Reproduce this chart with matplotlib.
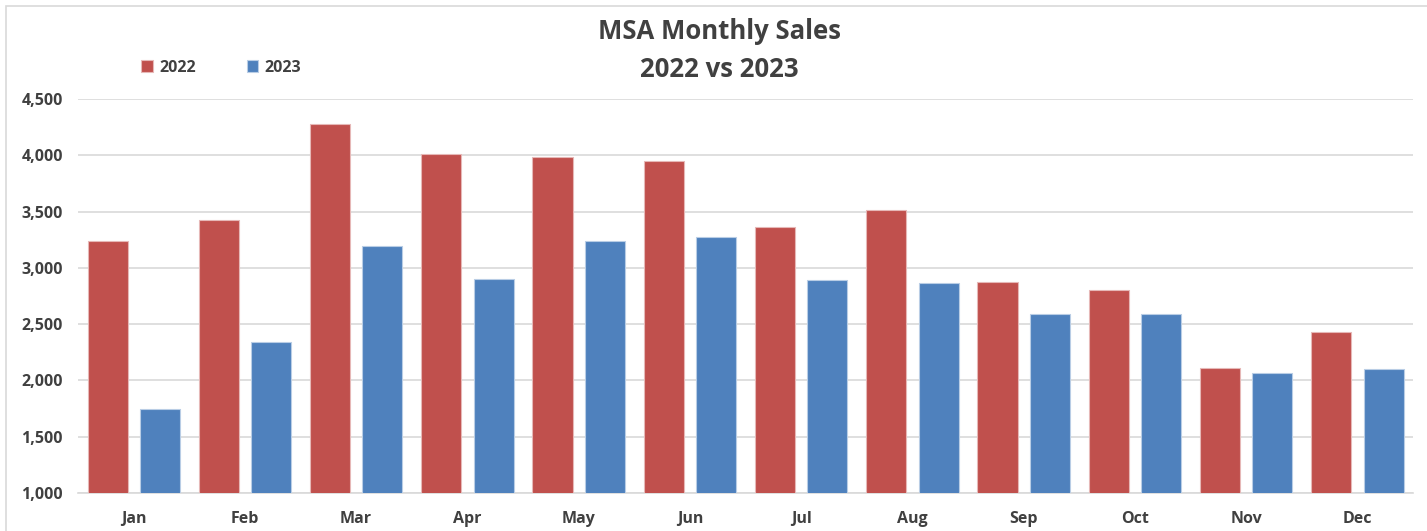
import matplotlib.pyplot as plt
import numpy as np
from matplotlib.patches import Rectangle
from matplotlib.ticker import FuncFormatter

# 資料
months = ['Jan', 'Feb', 'Mar', 'Apr', 'May', 'Jun',
          'Jul', 'Aug', 'Sep', 'Oct', 'Nov', 'Dec']
sales_2022 = [3237, 3426, 4276, 4009, 3988, 3949, 3363, 3514, 2879, 2800, 2113, 2429]
sales_2023 = [1746, 2345, 3193, 2902, 3235, 3276, 2895, 2870, 2592, 2592, 2068, 2098]
series_labels = ['2022', '2023']

RED = '#C0504D'
BLUE = '#4F81BD'
TEXT = '#404040'
GRID = '#D9D9D9'

plt.rcParams['font.family'] = ['Open Sans', 'DejaVu Sans']

fig = plt.figure(figsize=(14.27, 5.31), dpi=100)
ax = fig.add_axes([0.0547, 0.0721, 0.9355, 0.7409])

x = np.arange(len(months))
w = 0.36
ax.bar(x - 0.235, sales_2022, width=w, color=RED, edgecolor='#E6B8B7',
       linewidth=0.8, label=series_labels[0], zorder=3)
ax.bar(x + 0.235, sales_2023, width=w, color=BLUE, edgecolor='#B9CDE5',
       linewidth=0.8, label=series_labels[1], zorder=3)

ax.set_xlim(-0.5, len(months) - 0.5)
ax.set_ylim(1000, 4500)
ax.set_yticks(np.arange(1000, 4501, 500))
ax.yaxis.set_major_formatter(FuncFormatter(lambda v, p: f'{int(v):,}'))
ax.set_xticks(x)
ax.set_xticklabels(months)

ax.grid(axis='y', color=GRID, linewidth=1.2, zorder=0)
for s in ['top', 'right', 'left']:
    ax.spines[s].set_visible(False)
ax.spines['bottom'].set_color(GRID)
ax.spines['bottom'].set_linewidth(1.2)
ax.tick_params(length=0, labelsize=11.5, labelcolor=TEXT)
ax.tick_params(axis='x', pad=13)
ax.tick_params(axis='y', pad=11)
for t in ax.get_xticklabels() + ax.get_yticklabels():
    t.set_fontweight('bold')

# 標題
fig.text(0.504, 0.940, 'MSA Monthly Sales', ha='center', va='center',
         fontsize=18.5, fontweight='bold', color=TEXT)
fig.text(0.504, 0.869, '2022 vs 2023', ha='center', va='center',
         fontsize=18.5, fontweight='bold', color=TEXT)

# 圖例
ax.legend(loc='upper left', bbox_to_anchor=(0.089, 0.915), bbox_transform=fig.transFigure,
          ncol=2, frameon=False, handlelength=0.7, handleheight=0.7,
          columnspacing=3.2, handletextpad=0.4, labelcolor=TEXT,
          prop={'family': ['Open Sans', 'DejaVu Sans'], 'weight': 'bold', 'size': 11.5})

# 外框
fig.patches.append(Rectangle((6 / 1427, -0.01), 1.1, 1 - 6 / 531 + 0.01, transform=fig.transFigure,
                             fill=False, edgecolor='#D9D9D9', linewidth=1.2))

fig.savefig('out.png', dpi=100)
